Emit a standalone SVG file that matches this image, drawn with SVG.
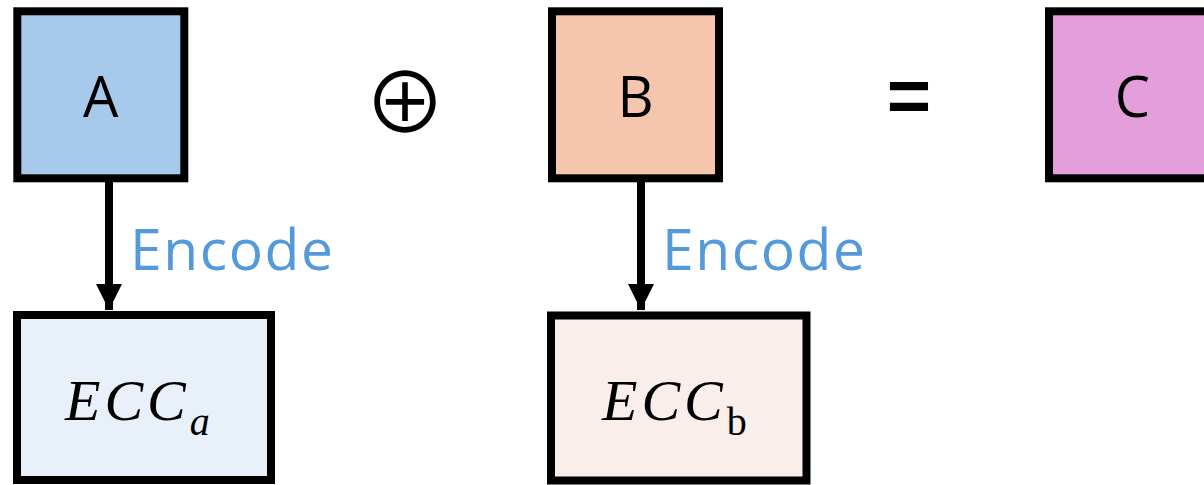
<svg xmlns="http://www.w3.org/2000/svg" width="1204" height="485" viewBox="0 0 1204 485">
  <style>
    .box { stroke: #000; stroke-width: 8; }
    .lbl { font-family: "Open Sans", "Liberation Sans", sans-serif; font-size: 56px; fill: #000; text-anchor: middle; }
    .enc { font-family: "Open Sans", "Liberation Sans", sans-serif; font-size: 57px; fill: #5399DB; }
    .ecc { font-family: "Liberation Serif", "DejaVu Serif", serif; font-style: italic; font-size: 58px; fill: #000; letter-spacing: 4px; }
    .sub { font-size: 40px; letter-spacing: 0; }
    .op { fill: #000; text-anchor: middle; }
    .wire { stroke: #000; stroke-width: 8; fill: none; }
  </style>
  <defs>
    <marker id="arrowhead" markerUnits="userSpaceOnUse" markerWidth="26" markerHeight="26" refX="26" refY="13" orient="auto">
      <path d="M0,0 L26,13 L0,26 Z" fill="#000"/>
    </marker>
  </defs>
  <rect width="1204" height="485" fill="#fff"/>

  <g id="node-a">
    <rect class="box" x="17.3" y="11.3" width="167" height="167" fill="#A7CAEC"/>
    <text class="lbl" x="100.8" y="117">A</text>
  </g>

  <g id="op-xor">
    <text class="op" x="405" y="133" font-size="83" font-family="Noto Sans CJK JP, DejaVu Sans, sans-serif">⊕</text>
  </g>

  <g id="node-b">
    <rect class="box" x="552" y="11.3" width="167" height="167" fill="#F5C6AD"/>
    <text class="lbl" x="635.5" y="117">B</text>
  </g>

  <g id="op-eq">
    <text class="op" x="909" y="122" font-size="76" font-family="Liberation Sans, sans-serif" font-weight="bold">=</text>
  </g>

  <g id="node-c">
    <rect class="box" x="1049" y="11.3" width="167" height="167" fill="#E49EDB"/>
    <text class="lbl" x="1132.5" y="117">C</text>
  </g>

  <g id="node-ecc-a">
    <rect class="box" x="17" y="315" width="254" height="165" fill="#E8F0F9"/>
    <text class="ecc" x="65" y="420">ECC<tspan class="sub" dy="15">a</tspan></text>
  </g>

  <g id="node-ecc-b">
    <rect class="box" x="551" y="315.5" width="255.5" height="165" fill="#F9EEE9"/>
    <text class="ecc" x="602" y="420">ECC<tspan class="sub" dy="15" font-style="normal">b</tspan></text>
  </g>

  <g id="connectors">
    <line class="wire" x1="109" y1="182" x2="109" y2="310" marker-end="url(#arrowhead)"/>
    <line class="wire" x1="641" y1="182" x2="641" y2="310" marker-end="url(#arrowhead)"/>
    <text class="enc" x="130" y="270" textLength="203" lengthAdjust="spacing">Encode</text>
    <text class="enc" x="662" y="270" textLength="203" lengthAdjust="spacing">Encode</text>
  </g>
</svg>
